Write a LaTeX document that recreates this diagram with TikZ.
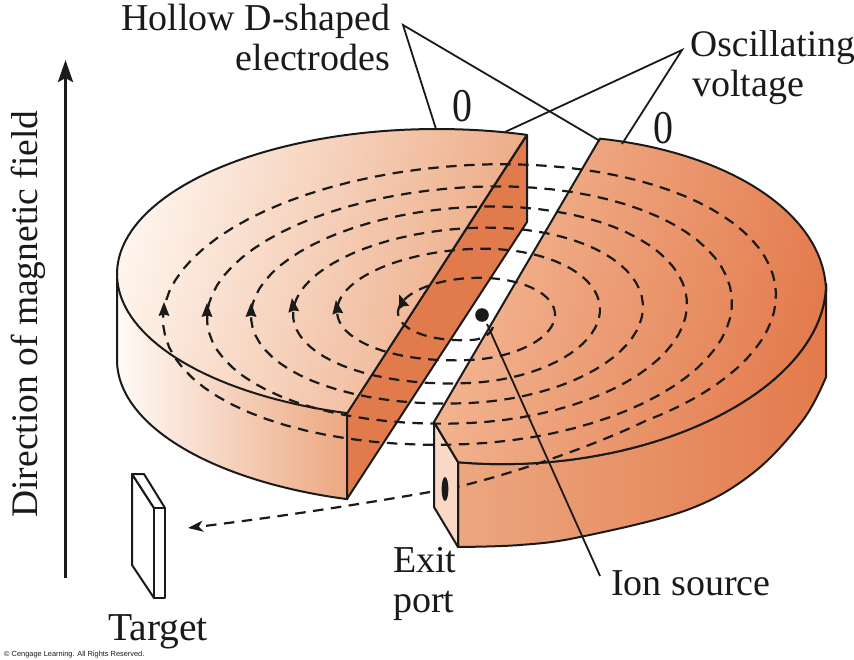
\documentclass[tikz,border=0pt]{standalone}
\usepackage{fontspec}
\setmainfont{Liberation Serif}
\newfontfamily\creditfont{Liberation Sans}
\usetikzlibrary{arrows.meta}
\definecolor{inkk}{HTML}{1A1A1A}
\definecolor{paleA}{HTML}{FEF4EC}
\definecolor{midA}{HTML}{ECA780}
\definecolor{midB}{HTML}{F3B996}
\definecolor{deepB}{HTML}{E37A4C}
\definecolor{slitface}{HTML}{E27B4B}
\definecolor{portface}{HTML}{F9D9C5}
\tikzset{
  outline/.style={draw=inkk,line width=2pt,line join=round},
  leader/.style={draw=inkk,line width=1.8pt},
  orbit/.style={draw=inkk,line width=2.2pt,dash pattern=on 10.5pt off 7.5pt},
  orbittip/.style={draw=none,fill=inkk},
  lbl/.style={font=\fontsize{38}{40}\selectfont,text=inkk,inner sep=0pt,anchor=base west},
  plate/.style={font=\fontsize{47}{47}\selectfont,text=inkk,inner sep=0pt,anchor=center,xscale=0.85,transform shape},
}
\newcommand{\orbitarrow}[3]{\fill[orbittip,shift={(#1,#2)},rotate=#3] (0,-8) -- (5.5,6) -- (0,4.5) -- (-5.5,6) -- cycle;}
\newcommand{\rhalf}[3]{-- plot[domain=-90:90,samples=40] ({470+#1*cos(\x)},{#2+#3*sin(\x)-0.05*#1*cos(\x)})}
\newcommand{\lhalf}[3]{-- plot[domain=90:270,samples=40] ({470+#1*cos(\x)},{#2+#3*sin(\x)-0.05*#1*cos(\x)})}
\begin{document}
\begin{tikzpicture}[x=1pt,y=-1pt]
\useasboundingbox (0,0) rectangle (854,660);

% left D: side, cut face, top
\shadedraw[outline,left color=paleA!40!white,right color=midA]
  (117,274) -- (117,360)
  -- plot[domain=-180:-253.7,samples=50] ({437+320*cos(\x)},{360+145*sin(\x)})
  -- (347,413) -- cycle;
\filldraw[outline,fill=slitface] (527,135) -- (527,222) -- (347,499) -- (347,413) -- cycle;
\shadedraw[outline,left color=paleA,right color=midA,shading angle=75]
  plot[domain=-73.7:-253.7,samples=90] ({437+320*cos(\x)},{274+145*sin(\x)}) -- cycle;

% right D: side, port face, top
\shadedraw[outline,left color=midA,right color=deepB]
  (458,462) -- (458,547)
  -- plot[smooth,tension=0.6] coordinates {(458,547) (520,545) (580,537) (687,510) (753,473) (803,420) (826,377)}
  -- (826,284)
  -- plot[domain=0:103.8,samples=50] ({529+297*cos(\x)},{298.5+165*sin(\x)-0.05*297*cos(\x)}) -- cycle;
\filldraw[outline,fill=portface] (434,422) -- (458,462) -- (458,547) -- (434,507) -- cycle;
\shadedraw[outline,left color=midB,right color=deepB,shading angle=75]
  plot[domain=-76.2:0,samples=40] ({529+297*cos(\x)},{301+165*sin(\x)-0.03*297*cos(\x)})
  -- plot[domain=0:103.8,samples=50] ({529+297*cos(\x)},{298.5+165*sin(\x)-0.05*297*cos(\x)})
  -- (434,422) -- cycle;

% exit port and ion source
\fill[inkk] (445,489) ellipse [x radius=3.4,y radius=12];
\fill[inkk] (482,315) circle [radius=6.8];

% orbit spiral
\draw[orbit] (493,327) .. controls (490,335) and (482,340) .. (470,340)
  \lhalf{72}{309}{31}
  \rhalf{85}{319}{41}
  \lhalf{133}{304.5}{55.5}
  \rhalf{130}{316}{67}
  \lhalf{177}{305.5}{77.5}
  \rhalf{173}{315.5}{87.5}
  \lhalf{219}{305}{98}
  \rhalf{217}{315}{108}
  \lhalf{263}{305}{118}
  \rhalf{262}{315.5}{128.5}
  \lhalf{307}{304.5}{139.5}
  -- plot[domain=-90:55,samples=40] ({470+306*cos(\x)},{310.5+145.5*sin(\x)-0.05*306*cos(\x)})
  .. controls (600,443) and (520,472) .. (457,487);
\coordinate (portout) at (430,492);
\coordinate (targetaim) at (188,528);
\draw[orbit,-{Stealth[length=15pt,width=11pt,inset=4pt]}] (portout) .. controls (350,506) and (270,518) .. (targetaim);
\orbitarrow{164}{310}{0}
\orbitarrow{207}{311}{0}
\orbitarrow{251}{311}{0}
\orbitarrow{293}{306}{8}
\orbitarrow{337}{308}{8}
\orbitarrow{402}{302}{20}

% target
\filldraw[outline,fill=white] (132,474) -- (154,508) -- (154,598) -- (132,565) -- cycle;
\filldraw[outline,fill=white] (132,474) -- (144,474) -- (165,508) -- (154,508) -- cycle;
\filldraw[outline,fill=white] (154,508) -- (165,508) -- (165,598) -- (154,598) -- cycle;

% field arrow
\coordinate (fieldlow) at (65.5,578);
\coordinate (fieldhigh) at (65.5,60);
\draw[draw=inkk,line width=3.4pt,-{Stealth[length=22pt,width=15pt,inset=4pt]}] (fieldlow) -- (fieldhigh);

% labels
\node[lbl] (hollow) at (121,31) {Hollow D-shaped};
\node[lbl,anchor=base east] (electrodes) at (390,71) {electrodes};
\node[lbl,font=\fontsize{37.5}{40}\selectfont] (oscillating) at (690,57) {Oscillating};
\node[lbl] (voltage) at (692,97) {voltage};
\node[lbl] (exit) at (393,572) {Exit};
\node[lbl] (port) at (393,612) {port};
\node[lbl] (ion) at (611,595) {Ion source};
\node[lbl,font=\fontsize{39.5}{40}\selectfont] (target) at (108,640) {Target};
\node[lbl,font=\fontsize{37.5}{40}\selectfont,rotate=90,anchor=base] (field) at (37,314) {Direction of magnetic field};
\node[inner sep=0pt,anchor=base west,font=\creditfont\fontsize{7.4}{8}\selectfont,text=inkk] (credit) at (4,656) {© Cengage Learning. All Rights Reserved.};
\node[plate] (plateL) at (462,106) {0};
\node[plate] (plateR) at (663,128) {0};

% leader lines
\coordinate (dapex) at (403,25);
\coordinate (oapex) at (682,50);
\coordinate (dleft) at (436,129);
\coordinate (dright) at (600,141);
\coordinate (oleft) at (505,132);
\coordinate (oright) at (622,144);
\draw[leader,line join=miter] (dleft) -- (dapex) -- (dright);
\draw[leader,line join=miter] (oleft) -- (oapex) -- (oright);
\coordinate (ionstart) at (487,324);
\coordinate (ionend) at (600,576);
\draw[leader] (ionstart) -- (ionend);
\end{tikzpicture}
\end{document}
